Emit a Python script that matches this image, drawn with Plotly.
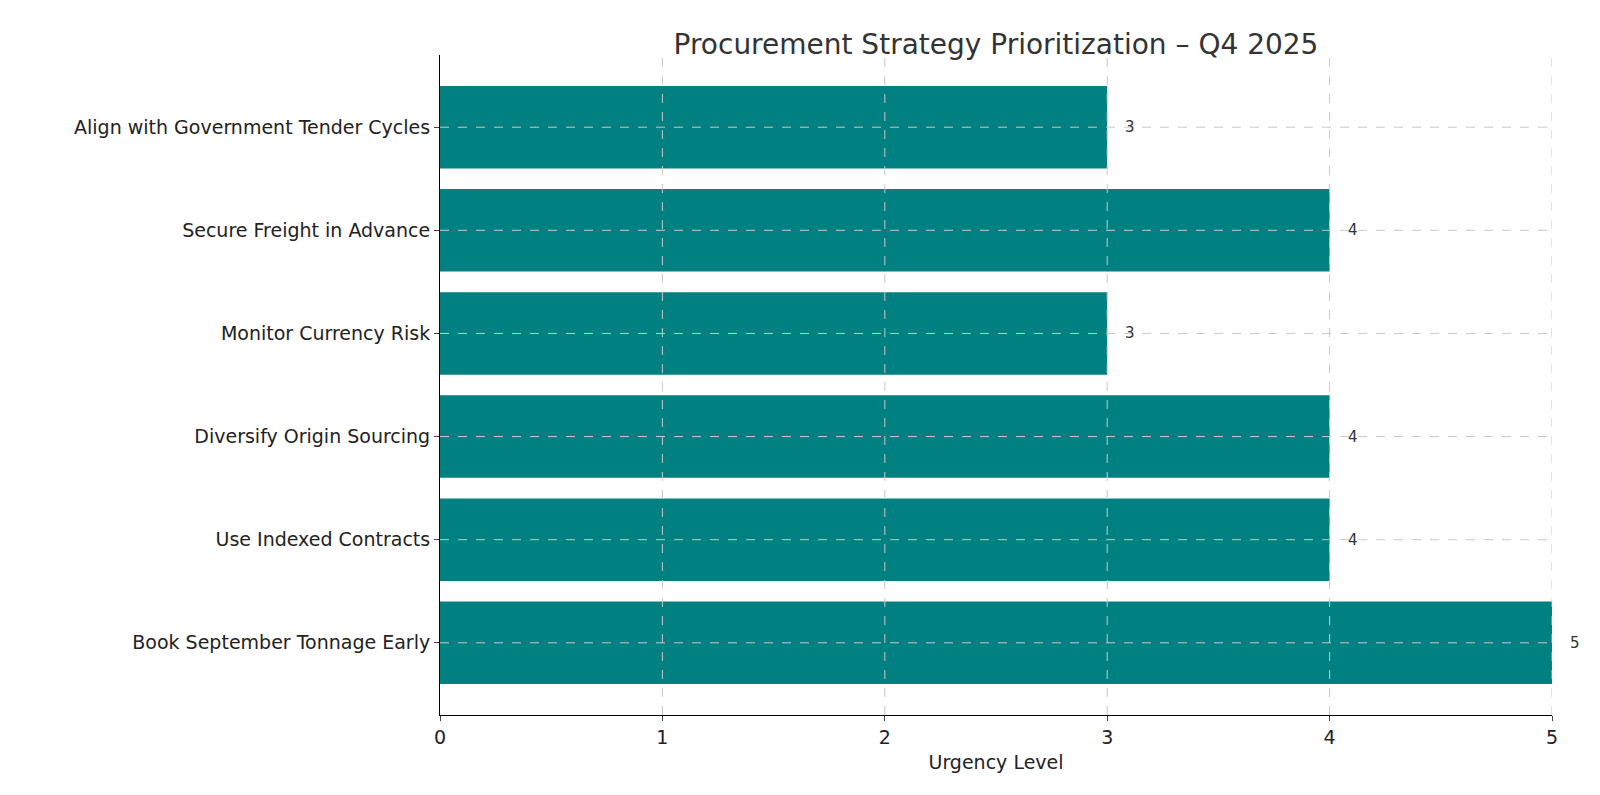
import plotly.graph_objects as go

strategies = ["Book September Tonnage Early", "Use Indexed Contracts", "Diversify Origin Sourcing",
              "Monitor Currency Risk", "Secure Freight in Advance", "Align with Government Tender Cycles"]
urgency = [5, 4, 4, 3, 4, 3]
x_ticks = [0, 1, 2, 3, 4, 5]

fig = go.Figure(go.Bar(x=urgency, y=strategies, orientation="h", marker_color="#008080",
                       marker_line_width=0, width=0.8))

for s, u in zip(strategies, urgency):
    fig.add_annotation(x=u, y=s, text=str(u), showarrow=False, xanchor="left", xshift=16,
                       font=dict(size=15, color="#333"))

# matplotlib-style grid drawn above the bars
gline = dict(color="#c8c8c8", width=1, dash="dash")
for t in x_ticks[1:]:
    fig.add_shape(type="line", xref="x", yref="paper", x0=t, x1=t, y0=0, y1=1, line=gline, layer="above")
for s in strategies:
    fig.add_shape(type="line", xref="paper", yref="y", x0=0, x1=1, y0=s, y1=s, line=gline, layer="above")

fig.update_layout(
    width=1600, height=795, plot_bgcolor="white", paper_bgcolor="white",
    font=dict(family="DejaVu Sans", size=19, color="#222"),
    title=dict(text="Procurement Strategy Prioritization – Q4 2025", x=0.5, xref="paper", xanchor="center",
               y=0.967, font=dict(size=28, color="#333")),
    margin=dict(l=432, r=56, t=47, b=88), showlegend=False,
    xaxis=dict(range=[0, 5], tickvals=x_ticks, title=dict(text="Urgency Level", font=dict(size=19), standoff=8),
               showline=True, linecolor="black", ticks="outside", ticklen=5, zeroline=False, showgrid=False),
    yaxis=dict(range=[-0.7, 5.7], showline=True, linecolor="black", ticks="outside", ticklen=5, showgrid=False),
)

fig.write_html("out.html")
